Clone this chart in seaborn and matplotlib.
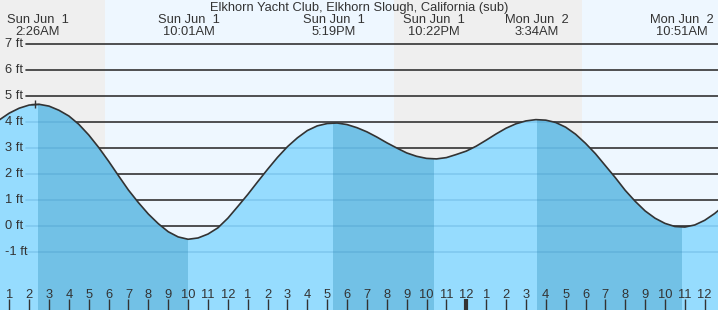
import numpy as np
import matplotlib
matplotlib.use('Agg')
import matplotlib.pyplot as plt
import matplotlib.transforms as mtransforms
import seaborn as sns

# tide heights (ft), every half hour from 00:30 Jun 1
hours = np.arange(0.5, 37.01, 0.5)  # hours since midnight Jun 1
heights = [4.08, 4.34, 4.53, 4.65, 4.68, 4.61, 4.45, 4.23, 3.91, 3.50,
           3.02, 2.49, 1.93, 1.38, 0.90, 0.46, 0.09, -0.22, -0.42, -0.51,
           -0.46, -0.31, -0.07, 0.30, 0.75, 1.21, 1.70, 2.18, 2.64, 3.05,
           3.39, 3.67, 3.85, 3.94, 3.96, 3.90, 3.78, 3.62, 3.42, 3.20,
           3.00, 2.81, 2.68, 2.60, 2.58, 2.63, 2.75, 2.88, 3.07, 3.30,
           3.54, 3.76, 3.93, 4.04, 4.09, 4.07, 3.98, 3.80, 3.53, 3.18,
           2.78, 2.32, 1.86, 1.37, 0.95, 0.58, 0.30, 0.10, -0.02, -0.04,
           0.04, 0.22, 0.48, 0.80]

# high / low tides
ext_times = [2.433, 10.017, 17.317, 22.367, 27.567, 34.85]
ext_days = ['Sun Jun  1', 'Sun Jun  1', 'Sun Jun  1', 'Sun Jun  1', 'Mon Jun  2', 'Mon Jun  2']
ext_clock = ['2:26AM', '10:01AM', '5:19PM', '10:22PM', '3:34AM', '10:51AM']

# sunrise / sunset
sunrise = [5.82, 29.81]
sunset = [20.36]

ft_levels = [-1, 0, 1, 2, 3, 4, 5, 6, 7]
ft_labels = ['-1 ft', '0 ft', '1 ft', '2 ft', '3 ft', '4 ft', '5 ft', '6 ft', '7 ft']

tick_hours = list(range(1, 37))
tick_labels = ['1', '2', '3', '4', '5', '6', '7', '8', '9', '10', '11', '12',
               '1', '2', '3', '4', '5', '6', '7', '8', '9', '10', '11', '12',
               '1', '2', '3', '4', '5', '6', '7', '8', '9', '10', '11', '12']

marker_t, marker_h = 2.3, 4.7
title = 'Elkhorn Yacht Club, Elkhorn Slough, California (sub)'

sns.set_theme(style='white')
plt.rcParams['font.family'] = ['Liberation Sans', 'DejaVu Sans']

txt = '#333333'
day_col = '#eef7ff'
night_col = '#efefef'
light_water = '#96dcfe'
dark_water = '#72c1e6'

fig = plt.figure(figsize=(7.18, 3.10), dpi=100)
ax = fig.add_axes([0, 0, 1, 1])
x_lo, x_hi = 0.5335, 36.668
ax.set_xlim(x_lo, x_hi)
ax.set_ylim(-3.23, 8.69)
for s in ax.spines.values():
    s.set_visible(False)

# day / night background
ax.axvspan(x_lo, sunrise[0], color=night_col, lw=0, zorder=0)
ax.axvspan(sunrise[0], sunset[0], color=day_col, lw=0, zorder=0)
ax.axvspan(sunset[0], sunrise[1], color=night_col, lw=0, zorder=0)
ax.axvspan(sunrise[1], x_hi, color=day_col, lw=0, zorder=0)

gx = 26 / 718
for y in ft_levels:
    ax.axhline(y, xmin=gx, color=txt, lw=1.2, zorder=1)

water = ax.fill_between(hours, heights, -10, color=light_water, lw=0, zorder=2)
clip = water.get_paths()[0]

# falling tide darker
for i in range(0, len(ext_times), 2):
    p = ax.axvspan(ext_times[i], ext_times[i + 1], color=dark_water, lw=0, zorder=3)
    p.set_clip_path(clip, ax.transData)

for y in ft_levels:
    l = ax.axhline(y, xmin=gx, color='#2f80b8', alpha=0.22, lw=1.2, zorder=4)
    l.set_clip_path(clip, ax.transData)

sns.lineplot(x=hours, y=heights, ax=ax, color=txt, lw=1.2, zorder=5)
ax.plot(marker_t, marker_h, marker='+', color=txt, ms=6, mew=1, zorder=6)

fs = 9.3
ytr = mtransforms.blended_transform_factory(ax.transAxes, ax.transData)
for y, lab in zip(ft_levels, ft_labels):
    ax.text(5 / 718, y, lab, transform=ytr, ha='left', va='center', fontsize=fs, color=txt, zorder=7)

xtr = mtransforms.blended_transform_factory(ax.transData, ax.transAxes)
for t, d, c in zip(ext_times, ext_days, ext_clock):
    ax.text(t, 1 - 20 / 310, d, transform=xtr, ha='center', va='center', fontsize=fs, color=txt)
    ax.text(t, 1 - 32 / 310, c, transform=xtr, ha='center', va='center', fontsize=fs, color=txt)
ax.text(0.5, 1 - 7.5 / 310, title, transform=ax.transAxes, ha='center', va='center', fontsize=fs, color=txt)

# hour ticks along the bottom, labels sit inside the plot
ax.set_yticks([])
ax.set_xticks(tick_hours)
ax.set_xticklabels([])
ax.tick_params(axis='x', direction='in', length=8, width=1, color=txt, bottom=True)
ax.xaxis.get_major_ticks()[tick_hours.index(24)].tick1line.set_markeredgewidth(3)
ax.set_axisbelow(False)
ax.xaxis.set_zorder(10)
for t, lab in zip(tick_hours, tick_labels):
    ax.text(t, 15 / 310, lab, transform=xtr, ha='center', va='center', fontsize=fs, color=txt, zorder=7)
ax.set_xlabel('')
ax.set_ylabel('')

fig.savefig('out.png', dpi=100)
